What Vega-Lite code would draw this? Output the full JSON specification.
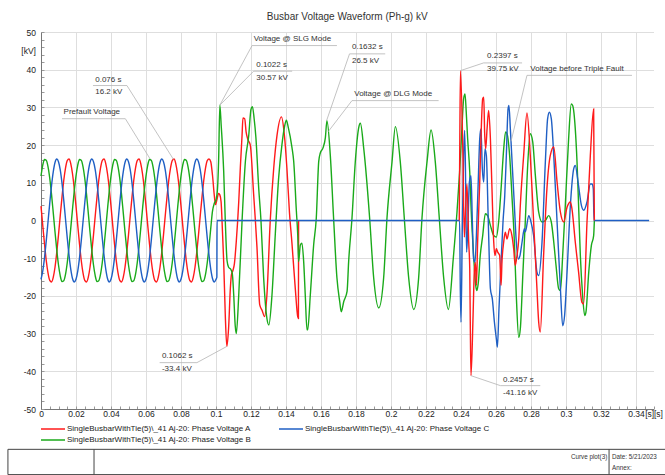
{
 "$schema": "https://vega.github.io/schema/vega-lite/v6.json",
 "background": "white",
 "padding": {"left": 7, "top": 12, "right": 0, "bottom": 0},
 "config": {"font": "Liberation Sans", "view": {"stroke": null}},
 "width": 612.5,
 "height": 377,
 "title": {"text": "Busbar Voltage Waveform (Ph-g) kV", "fontSize": 10, "fontWeight": "normal", "color": "#333333", "frame": "group", "anchor": "middle", "offset": 6},
 "datasets": {
  "w": [
   {"t":0,"A":3.8,"B":11.8,"C":-15.6},{"t":0.001,"A":-1.3,"B":14.7,"C":-13.4},{"t":0.002,"A":-6.2,"B":16.2,"C":-9.9},{"t":0.003,"A":-10.6,"B":16,"C":-5.4},{"t":0.004,"A":-13.9,"B":14.3,"C":-0.4},{"t":0.005,"A":-15.9,"B":11.2,"C":4.6},{"t":0.006,"A":-16.3,"B":7,"C":9.2},{"t":0.007,"A":-15.1,"B":2.1,"C":12.9},{"t":0.008,"A":-12.4,"B":-3,"C":15.4},{"t":0.009,"A":-8.5,"B":-7.8,"C":16.3},
   {"t":0.01,"A":-3.8,"B":-11.8,"C":15.6},{"t":0.011,"A":1.3,"B":-14.7,"C":13.4},{"t":0.012,"A":6.2,"B":-16.2,"C":9.9},{"t":0.013,"A":10.6,"B":-16,"C":5.4},{"t":0.014,"A":13.9,"B":-14.3,"C":0.4},{"t":0.015,"A":15.9,"B":-11.2,"C":-4.6},{"t":0.016,"A":16.3,"B":-7,"C":-9.2},{"t":0.017,"A":15.1,"B":-2.1,"C":-12.9},{"t":0.018,"A":12.4,"B":3,"C":-15.4},{"t":0.019,"A":8.5,"B":7.8,"C":-16.3},
   {"t":0.02,"A":3.8,"B":11.8,"C":-15.6},{"t":0.021,"A":-1.3,"B":14.7,"C":-13.4},{"t":0.022,"A":-6.2,"B":16.2,"C":-9.9},{"t":0.023,"A":-10.6,"B":16,"C":-5.4},{"t":0.024,"A":-13.9,"B":14.3,"C":-0.4},{"t":0.025,"A":-15.9,"B":11.2,"C":4.6},{"t":0.026,"A":-16.3,"B":7,"C":9.2},{"t":0.027,"A":-15.1,"B":2.1,"C":12.9},{"t":0.028,"A":-12.4,"B":-3,"C":15.4},{"t":0.029,"A":-8.5,"B":-7.8,"C":16.3},
   {"t":0.03,"A":-3.8,"B":-11.8,"C":15.6},{"t":0.031,"A":1.3,"B":-14.7,"C":13.4},{"t":0.032,"A":6.2,"B":-16.2,"C":9.9},{"t":0.033,"A":10.6,"B":-16,"C":5.4},{"t":0.034,"A":13.9,"B":-14.3,"C":0.4},{"t":0.035,"A":15.9,"B":-11.2,"C":-4.6},{"t":0.036,"A":16.3,"B":-7,"C":-9.2},{"t":0.037,"A":15.1,"B":-2.1,"C":-12.9},{"t":0.038,"A":12.4,"B":3,"C":-15.4},{"t":0.039,"A":8.5,"B":7.8,"C":-16.3},
   {"t":0.04,"A":3.8,"B":11.8,"C":-15.6},{"t":0.041,"A":-1.3,"B":14.7,"C":-13.4},{"t":0.042,"A":-6.2,"B":16.2,"C":-9.9},{"t":0.043,"A":-10.6,"B":16,"C":-5.4},{"t":0.044,"A":-13.9,"B":14.3,"C":-0.4},{"t":0.045,"A":-15.9,"B":11.2,"C":4.6},{"t":0.046,"A":-16.3,"B":7,"C":9.2},{"t":0.047,"A":-15.1,"B":2.1,"C":12.9},{"t":0.048,"A":-12.4,"B":-3,"C":15.4},{"t":0.049,"A":-8.5,"B":-7.8,"C":16.3},
   {"t":0.05,"A":-3.8,"B":-11.8,"C":15.6},{"t":0.051,"A":1.3,"B":-14.7,"C":13.4},{"t":0.052,"A":6.2,"B":-16.2,"C":9.9},{"t":0.053,"A":10.6,"B":-16,"C":5.4},{"t":0.054,"A":13.9,"B":-14.3,"C":0.4},{"t":0.055,"A":15.9,"B":-11.2,"C":-4.6},{"t":0.056,"A":16.3,"B":-7,"C":-9.2},{"t":0.057,"A":15.1,"B":-2.1,"C":-12.9},{"t":0.058,"A":12.4,"B":3,"C":-15.4},{"t":0.059,"A":8.5,"B":7.8,"C":-16.3},
   {"t":0.06,"A":3.8,"B":11.8,"C":-15.6},{"t":0.061,"A":-1.3,"B":14.7,"C":-13.4},{"t":0.062,"A":-6.2,"B":16.2,"C":-9.9},{"t":0.063,"A":-10.6,"B":16,"C":-5.4},{"t":0.064,"A":-13.9,"B":14.3,"C":-0.4},{"t":0.065,"A":-15.9,"B":11.2,"C":4.6},{"t":0.066,"A":-16.3,"B":7,"C":9.2},{"t":0.067,"A":-15.1,"B":2.1,"C":12.9},{"t":0.068,"A":-12.4,"B":-3,"C":15.4},{"t":0.069,"A":-8.5,"B":-7.8,"C":16.3},
   {"t":0.07,"A":-3.8,"B":-11.8,"C":15.6},{"t":0.071,"A":1.3,"B":-14.7,"C":13.4},{"t":0.072,"A":6.2,"B":-16.2,"C":9.9},{"t":0.073,"A":10.6,"B":-16,"C":5.4},{"t":0.074,"A":13.9,"B":-14.3,"C":0.4},{"t":0.075,"A":15.9,"B":-11.2,"C":-4.6},{"t":0.076,"A":16.3,"B":-7,"C":-9.2},{"t":0.077,"A":15.1,"B":-2.1,"C":-12.9},{"t":0.078,"A":12.4,"B":3,"C":-15.4},{"t":0.079,"A":8.5,"B":7.8,"C":-16.3},
   {"t":0.08,"A":3.8,"B":11.8,"C":-15.6},{"t":0.081,"A":-1.3,"B":14.7,"C":-13.4},{"t":0.082,"A":-6.2,"B":16.2,"C":-9.9},{"t":0.083,"A":-10.6,"B":16,"C":-5.4},{"t":0.084,"A":-13.9,"B":14.3,"C":-0.4},{"t":0.085,"A":-15.9,"B":11.2,"C":4.6},{"t":0.086,"A":-16.3,"B":7,"C":9.2},{"t":0.087,"A":-15.1,"B":2.1,"C":12.9},{"t":0.088,"A":-12.4,"B":-3,"C":15.4},{"t":0.089,"A":-8.5,"B":-7.8,"C":16.3},
   {"t":0.09,"A":-3.8,"B":-11.8,"C":15.6},{"t":0.091,"A":1.3,"B":-14.7,"C":13.4},{"t":0.092,"A":6.2,"B":-16.2,"C":9.9},{"t":0.093,"A":10.6,"B":-16,"C":5.4},{"t":0.094,"A":13.9,"B":-14.3,"C":0.4},{"t":0.095,"A":15.9,"B":-11.2,"C":-4.6},{"t":0.096,"A":16.3,"B":-7,"C":-9.2},
   {"t":0.097,"C":-12.9},{"t":0.098,"C":-15.4},{"t":0.099,"C":-16.3},{"t":0.1,"C":-15.6},{"t":0.1005,"C":-15},{"t":0.1006,"C":0},{"t":0.2392,"C":0},
   {"t":0.2396,"C":-18.1},{"t":0.24,"C":-27},{"t":0.2408,"C":-0.4},{"t":0.2415,"C":17.2},{"t":0.2421,"C":23.9},{"t":0.2427,"C":8.4},{"t":0.2432,"C":-8.4},{"t":0.244,"C":-0.4},{"t":0.2448,"C":10.2},{"t":0.2457,"C":11.9},{"t":0.2465,"C":-0.4},{"t":0.2472,"C":-10.2},{"t":0.248,"C":-11.1},{"t":0.2488,"C":-4},{"t":0.2499,"C":11.1},{"t":0.2507,"C":21.7},{"t":0.2514,"C":24.3},{"t":0.2522,"C":13.7},{"t":0.253,"C":10.2},{"t":0.2537,"C":19},{"t":0.2545,"C":17.2},{"t":0.2556,"C":-0.4},{"t":0.2568,"C":-18.1},{"t":0.2579,"C":-20.8},{"t":0.2591,"C":-27},{"t":0.2602,"C":-31.4},{"t":0.2608,"C":-33.6},{"t":0.2617,"C":-23.4},{"t":0.2629,"C":-11.1},{"t":0.264,"C":-0.4},{"t":0.265,"C":6.6},{"t":0.2659,"C":17.2},{"t":0.2669,"C":29.6},{"t":0.2674,"C":30.5},{"t":0.2682,"C":24.3},{"t":0.2693,"C":14.6},{"t":0.2705,"C":4},{"t":0.2716,"C":-5.7},{"t":0.2728,"C":-10.2},{"t":0.2737,"C":-9.3},{"t":0.2749,"C":-5.7},{"t":0.2762,"C":-2.2},{"t":0.2768,"C":-3},{"t":0.2787,"C":1.3},{"t":0.28,"C":-0.4},{"t":0.2815,"C":-4},{"t":0.2834,"C":-13.7},{"t":0.2844,"C":-14.6},{"t":0.2863,"C":-5.7},{"t":0.2882,"C":15.5},{"t":0.2895,"C":27},{"t":0.2905,"C":28.7},{"t":0.2916,"C":27},{"t":0.293,"C":17.2},{"t":0.2949,"C":-0.4},{"t":0.2968,"C":-18.1},{"t":0.2981,"C":-27.9},{"t":0.2992,"C":-25.2},{"t":0.3006,"C":-13.7},{"t":0.3025,"C":4},{"t":0.3044,"C":13.7},{"t":0.3053,"C":14.6},{"t":0.3069,"C":10.2},{"t":0.3088,"C":4},{"t":0.3101,"C":2.7},{"t":0.312,"C":4.9},{"t":0.3139,"C":9.7},{"t":0.3149,"C":9.7},{"t":0.3156,"C":8.4},{"t":0.316,"C":0},{"t":0.3475,"C":0},
   {"t":0.097,"A":15.6},{"t":0.098,"A":12},{"t":0.099,"A":6.8},{"t":0.0997,"A":4.2},{"t":0.1005,"A":5.5},{"t":0.1015,"A":7.2},{"t":0.1022,"A":6.8},{"t":0.1029,"A":5},{"t":0.1037,"A":-3},{"t":0.1044,"A":-11},{"t":0.1053,"A":-25},{"t":0.1062,"A":-33.4},{"t":0.1072,"A":-28.5},{"t":0.1082,"A":-18},{"t":0.1088,"A":-14.4},{"t":0.1097,"A":-13.2},{"t":0.1105,"A":-11.5},{"t":0.1116,"A":-5.5},{"t":0.113,"A":5},{"t":0.1139,"A":14},{"t":0.1149,"A":22.7},{"t":0.1154,"A":27.2},{"t":0.1164,"A":27},{"t":0.1172,"A":23.5},{"t":0.1182,"A":21.5},{"t":0.1196,"A":20},{"t":0.1215,"A":7},{"t":0.1225,"A":0},{"t":0.1234,"A":-7},{"t":0.125,"A":-22.4},{"t":0.1263,"A":-23.8},{"t":0.1278,"A":-25.5},{"t":0.1291,"A":-19.7},{"t":0.131,"A":0},{"t":0.133,"A":14},{"t":0.1349,"A":22.7},{"t":0.1374,"A":27.5},{"t":0.139,"A":23},{"t":0.1405,"A":14},{"t":0.142,"A":2},{"t":0.1434,"A":-6},{"t":0.1453,"A":-18},{"t":0.1467,"A":-25.5},{"t":0.1471,"A":-26},{"t":0.1472,"A":0},
   {"t":0.239,"A":0,"g":2},{"t":0.2393,"A":20,"g":2},{"t":0.2397,"A":39.75,"g":2},{"t":0.2411,"A":17.2,"g":2},{"t":0.2419,"A":-4.4,"g":2},{"t":0.2427,"A":4,"g":2},{"t":0.2434,"A":9.7,"g":2},{"t":0.2444,"A":-5.7,"g":2},{"t":0.245,"A":-12.8,"g":2},{"t":0.2453,"A":-27,"g":2},{"t":0.2457,"A":-41.16,"g":2},{"t":0.2469,"A":-25.2,"g":2},{"t":0.2476,"A":-13.7,"g":2},{"t":0.2482,"A":-11.1,"g":2},{"t":0.2488,"A":-17.2,"g":2},{"t":0.2495,"A":-5.7,"g":2},{"t":0.2507,"A":10.2,"g":2},{"t":0.2514,"A":21.7,"g":2},{"t":0.2524,"A":32.3,"g":2},{"t":0.253,"A":32.7,"g":2},{"t":0.2535,"A":23.4,"g":2},{"t":0.2541,"A":19,"g":2},{"t":0.2549,"A":24.3,"g":2},{"t":0.2558,"A":29.2,"g":2},{"t":0.2568,"A":21.7,"g":2},{"t":0.2577,"A":8.4,"g":2},{"t":0.2587,"A":-5.7,"g":2},{"t":0.2594,"A":-9.3,"g":2},{"t":0.2602,"A":-7.5,"g":2},{"t":0.261,"A":-8.4,"g":2},{"t":0.2621,"A":-9.3,"g":2},{"t":0.2629,"A":-17.2,"g":2},{"t":0.2634,"A":-11.1,"g":2},{"t":0.2644,"A":-5.7,"g":2},{"t":0.2653,"A":-3.1,"g":2},{"t":0.2663,"A":-4.9,"g":2},{"t":0.2678,"A":-2.2,"g":2},{"t":0.2691,"A":-4,"g":2},{"t":0.2701,"A":-7.5,"g":2},{"t":0.271,"A":-11.9,"g":2},{"t":0.272,"A":-9.3,"g":2},{"t":0.273,"A":-4.9,"g":2},{"t":0.2739,"A":4,"g":2},{"t":0.2758,"A":17.2,"g":2},{"t":0.2777,"A":28.5,"g":2},{"t":0.2796,"A":17.2,"g":2},{"t":0.2815,"A":-0.4,"g":2},{"t":0.2834,"A":-18.1,"g":2},{"t":0.2844,"A":-27,"g":2},{"t":0.2853,"A":-29.6,"g":2},{"t":0.2872,"A":-9.3,"g":2},{"t":0.2891,"A":8.4,"g":2},{"t":0.291,"A":17.2,"g":2},{"t":0.293,"A":19.5,"g":2},{"t":0.2949,"A":10.2,"g":2},{"t":0.2968,"A":2.2,"g":2},{"t":0.2987,"A":-0.4,"g":2},{"t":0.3006,"A":3.5,"g":2},{"t":0.3025,"A":4.9,"g":2},{"t":0.3034,"A":3.1,"g":2},{"t":0.3053,"A":-5.7,"g":2},{"t":0.3072,"A":-13.7,"g":2},{"t":0.3091,"A":-21.7,"g":2},{"t":0.3101,"A":-22.1,"g":2},{"t":0.312,"A":-0.4,"g":2},{"t":0.3139,"A":17.2,"g":2},{"t":0.3158,"A":29.6,"g":2},{"t":0.3162,"A":0,"g":2},
   {"t":0.097,"B":-2.1},{"t":0.098,"B":2.5},{"t":0.099,"B":4.5},{"t":0.1,"B":5.5},{"t":0.1008,"B":8},{"t":0.1015,"B":16},{"t":0.1022,"B":30.6},{"t":0.103,"B":25},{"t":0.1044,"B":13},{"t":0.1053,"B":0},{"t":0.1063,"B":-10.6},{"t":0.1072,"B":-12.4},{"t":0.1085,"B":-13},{"t":0.1093,"B":-14},{"t":0.1101,"B":-19.5},{"t":0.111,"B":-28},{"t":0.1116,"B":-30},{"t":0.113,"B":-19.7},{"t":0.1149,"B":0},{"t":0.1168,"B":15.7},{"t":0.1187,"B":22.5},{"t":0.12,"B":29.5},{"t":0.1208,"B":30.2},{"t":0.1218,"B":27},{"t":0.1228,"B":22},{"t":0.1244,"B":8.6},{"t":0.1257,"B":0},{"t":0.1272,"B":-15},{"t":0.1291,"B":-26},{"t":0.1302,"B":-27.7},{"t":0.132,"B":-19.7},{"t":0.1339,"B":-3.5},{"t":0.1358,"B":11.3},{"t":0.1377,"B":20.2},{"t":0.1392,"B":25},{"t":0.1402,"B":26.6},{"t":0.1413,"B":24.7},{"t":0.1434,"B":19.4},{"t":0.1444,"B":15.7},{"t":0.1459,"B":2.7},{"t":0.1467,"B":-3.8},{"t":0.1472,"B":-10.9},{"t":0.1482,"B":-6.5},{"t":0.1491,"B":-6},{"t":0.1501,"B":-10.9},{"t":0.151,"B":-19.7},{"t":0.152,"B":-29},{"t":0.1524,"B":-29},{"t":0.1539,"B":-19.7},{"t":0.1558,"B":-6.5},{"t":0.1573,"B":0.6},{"t":0.1587,"B":15.7},{"t":0.1596,"B":17.9},{"t":0.1611,"B":19.2},{"t":0.1625,"B":22},{"t":0.1634,"B":26.5},{"t":0.1653,"B":17.4},{"t":0.1672,"B":0.6},{"t":0.1691,"B":-15.2},{"t":0.1707,"B":-21.5},{"t":0.1716,"B":-24.2},{"t":0.173,"B":-21.5},{"t":0.1749,"B":-18.8},{"t":0.1758,"B":-10.9},{"t":0.1777,"B":0.6},{"t":0.1796,"B":15.6},{"t":0.1815,"B":24.5},{"t":0.1825,"B":25.8},{"t":0.1844,"B":19.2},{"t":0.1878,"B":0.6},{"t":0.1901,"B":-15.2},{"t":0.193,"B":-23.2},{"t":0.1958,"B":-15.2},{"t":0.1977,"B":0.6},{"t":0.2006,"B":15.6},{"t":0.2025,"B":24.9},{"t":0.2053,"B":15.6},{"t":0.2076,"B":0.6},{"t":0.2101,"B":-15.2},{"t":0.213,"B":-23.6},{"t":0.2158,"B":-15.2},{"t":0.2177,"B":0.6},{"t":0.2206,"B":15.6},{"t":0.2229,"B":24},{"t":0.2253,"B":15.6},{"t":0.2276,"B":0.6},{"t":0.2301,"B":-15.2},{"t":0.2328,"B":-23.6},{"t":0.2356,"B":-10},{"t":0.2377,"B":2.2},{"t":0.2392,"B":12.8},{"t":0.2406,"B":25.2},{"t":0.2415,"B":32.3},{"t":0.2423,"B":33.6},{"t":0.243,"B":28.7},{"t":0.2438,"B":21.7},{"t":0.245,"B":12.8},{"t":0.2457,"B":4},{"t":0.2472,"B":-9.3},{"t":0.2484,"B":-17.2},{"t":0.2491,"B":-18.6},{"t":0.2499,"B":-16.4},{"t":0.251,"B":-9.3},{"t":0.2524,"B":-4},{"t":0.2539,"B":1.8},{"t":0.2552,"B":1.3},{"t":0.2568,"B":-1.3},{"t":0.2587,"B":-4},{"t":0.2602,"B":-4.4},{"t":0.2615,"B":-0.4},{"t":0.2629,"B":8.4},{"t":0.2644,"B":19},{"t":0.2655,"B":23.5},{"t":0.2663,"B":23},{"t":0.2678,"B":17.2},{"t":0.2691,"B":6.6},{"t":0.2705,"B":-5.7},{"t":0.2716,"B":-19.9},{"t":0.273,"B":-31},{"t":0.2739,"B":-28.7},{"t":0.2754,"B":-13.7},{"t":0.2768,"B":0.4},{"t":0.2781,"B":14.6},{"t":0.2796,"B":23},{"t":0.281,"B":20.8},{"t":0.2825,"B":11.9},{"t":0.2844,"B":2.2},{"t":0.2863,"B":-0.4},{"t":0.2882,"B":0},{"t":0.2901,"B":1.3},{"t":0.2916,"B":-0.4},{"t":0.293,"B":-5.7},{"t":0.2943,"B":-11.9},{"t":0.2958,"B":-18.1},{"t":0.2968,"B":-18.6},{"t":0.2981,"B":-9.3},{"t":0.2996,"B":4},{"t":0.3015,"B":21.7},{"t":0.303,"B":30.9},{"t":0.3038,"B":30.5},{"t":0.3053,"B":24.3},{"t":0.3063,"B":15.5},{"t":0.3072,"B":4},{"t":0.3082,"B":-9.3},{"t":0.3095,"B":-19.9},{"t":0.3107,"B":-25.2},{"t":0.3114,"B":-24.3},{"t":0.313,"B":-13.7},{"t":0.3145,"B":-6.6},{"t":0.3158,"B":-4},{"t":0.3162,"B":0}
  ],
  "ann": [
   {"t":0.031,"kV":37.4,"s":"0.076 s"},{"t":0.031,"kV":34.0,"s":"16.2 kV"},
   {"t":0.0129,"kV":28.7,"s":"Prefault Voltage"},
   {"t":0.1215,"kV":48.2,"s":"Voltage @ SLG Mode"},
   {"t":0.123,"kV":41.3,"s":"0.1022 s"},{"t":0.123,"kV":37.7,"s":"30.57 kV"},
   {"t":0.1777,"kV":46.0,"s":"0.1632 s"},{"t":0.1777,"kV":42.4,"s":"26.5 kV"},
   {"t":0.179,"kV":33.6,"s":"Voltage @ DLG Mode"},
   {"t":0.2549,"kV":43.6,"s":"0.2397 s"},{"t":0.2549,"kV":40.1,"s":"39.75 kV"},
   {"t":0.2796,"kV":40.1,"s":"Voltage before Triple Fault"},
   {"t":0.0691,"kV":-36.0,"s":"0.1062 s"},{"t":0.0691,"kV":-39.5,"s":"-33.4 kV"},
   {"t":0.264,"kV":-42.2,"s":"0.2457 s"},{"t":0.264,"kV":-45.7,"s":"-41.16 kV"}
  ],
  "ld": [
   {"t":0.0297,"kV":35.8,"t2":0.0491,"kV2":35.8},{"t":0.0491,"kV":35.8,"t2":0.0757,"kV2":16.2},
   {"t":0.012,"kV":27.0,"t2":0.0482,"kV2":27.0},{"t":0.0482,"kV":27.0,"t2":0.0624,"kV2":16.3},
   {"t":0.1206,"kV":46.4,"t2":0.1691,"kV2":46.4},{"t":0.1206,"kV":46.4,"t2":0.1022,"kV2":30.6},
   {"t":0.1215,"kV":39.6,"t2":0.1435,"kV2":39.6},{"t":0.1215,"kV":39.6,"t2":0.1022,"kV2":30.6},
   {"t":0.1763,"kV":44.2,"t2":0.1967,"kV2":44.2},{"t":0.1763,"kV":44.2,"t2":0.1632,"kV2":26.5},
   {"t":0.1777,"kV":31.8,"t2":0.2272,"kV2":31.8},{"t":0.1777,"kV":31.8,"t2":0.164,"kV2":23.5},
   {"t":0.2529,"kV":41.8,"t2":0.2749,"kV2":41.8},{"t":0.2529,"kV":41.8,"t2":0.2397,"kV2":39.75},
   {"t":0.2777,"kV":38.5,"t2":0.3377,"kV2":38.5},{"t":0.2777,"kV":38.5,"t2":0.2686,"kV2":21},
   {"t":0.0678,"kV":-37.7,"t2":0.0891,"kV2":-37.7},{"t":0.0891,"kV":-37.7,"t2":0.1062,"kV2":-33.4},
   {"t":0.2625,"kV":-43.8,"t2":0.2853,"kV2":-43.8},{"t":0.2625,"kV":-43.8,"t2":0.2457,"kV2":-41.16}
  ],
  "tb": [
   {"t":-0.0189,"kV":-60.7,"t2":0.3567,"kV2":-60.7},
   {"t":-0.0189,"kV":-67.4,"t2":0.3567,"kV2":-67.4},
   {"t":-0.0189,"kV":-60.7,"t2":-0.0189,"kV2":-67.4},
   {"t":0.0303,"kV":-60.7,"t2":0.0303,"kV2":-67.4},
   {"t":0.3246,"kV":-60.7,"t2":0.3246,"kV2":-67.4}
  ],
  "tt": [
   {"t":0.3028,"kV":-62.6,"s":"Curve plot(3)"},
   {"t":0.3263,"kV":-62.6,"s":"Date: 5/21/2023"},
   {"t":0.3263,"kV":-65.6,"s":"Annex:"}
  ]
 },
 "layer": [
  {
   "data": {"name": "w"},
   "transform": [{"fold": ["A", "B", "C"], "as": ["phase", "kV"]}, {"filter": "isValid(datum.kV)"}],
   "mark": {"type": "line", "strokeWidth": 1.4, "interpolate": "monotone"},
   "encoding": {
    "x": {"field": "t", "type": "quantitative", "title": null,
     "scale": {"domain": [0, 0.35], "nice": false, "zero": false},
     "axis": {
      "values": [0,0.005,0.01,0.015,0.02,0.025,0.03,0.035,0.04,0.045,0.05,0.055,0.06,0.065,0.07,0.075,0.08,0.085,0.09,0.095,0.1,0.105,0.11,0.115,0.12,0.125,0.13,0.135,0.14,0.145,0.15,0.155,0.16,0.165,0.17,0.175,0.18,0.185,0.19,0.195,0.2,0.205,0.21,0.215,0.22,0.225,0.23,0.235,0.24,0.245,0.25,0.255,0.26,0.265,0.27,0.275,0.28,0.285,0.29,0.295,0.3,0.305,0.31,0.315,0.32,0.325,0.33,0.335,0.34,0.345,0.35],
      "tickCount": 500,
      "labelExpr": "datum.value > 0.3449 ? '[s]' : (round(datum.value * 1000) % 20 == 0 ? '' + datum.value : '')",
      "labelAlign": {"condition": {"test": "datum.value > 0.3449", "value": "left"}, "value": "center"},
      "labelOverlap": false, "labelFlush": false, "labelBound": false,
      "labelFontSize": 8.5, "labelColor": "#222222",
      "gridColor": "#dedede",
      "gridOpacity": {"condition": {"test": "round(datum.value * 1000) % 20 != 0", "value": 0}, "value": 1},
      "domainColor": "#777777", "tickColor": "#999999", "tickSize": -3, "labelPadding": 3
     }},
    "y": {"field": "kV", "type": "quantitative", "title": null,
     "scale": {"domain": [-50, 50], "nice": false, "zero": false},
     "axis": {
      "values": [-50,-48,-46,-44,-42,-40,-38,-36,-34,-32,-30,-28,-26,-24,-22,-20,-18,-16,-14,-12,-10,-8,-6,-4,-2,0,2,4,6,8,10,12,14,16,18,20,22,24,26,28,30,32,34,36,38,40,42,44,45,46,48,50],
      "tickCount": 500,
      "labelExpr": "datum.value == 45 ? '[kV]' : (datum.value % 10 == 0 ? '' + datum.value : '')",
      "labelOverlap": false, "labelFontSize": 8.5, "labelColor": "#222222",
      "gridColor": "#dedede",
      "gridOpacity": {"condition": {"test": "datum.value % 10 != 0", "value": 0}, "value": 1},
      "tickOpacity": {"condition": {"test": "datum.value == 45", "value": 0}, "value": 1},
      "domainColor": "#777777", "tickColor": "#999999", "tickSize": -3, "labelPadding": 8.5
     }},
    "detail": {"field": "g"},
    "color": {"field": "phase", "type": "nominal",
     "scale": {"domain": ["A", "C", "B"], "range": ["#ff1a1a", "#1f5fc4", "#1aaa1a"]},
     "legend": {"orient": "none", "legendX": 0, "legendY": 391, "direction": "horizontal", "columns": 2, "title": null,
      "labelExpr": "'SingleBusbarWithTie(5)\\\\_41 Aj-20: Phase Voltage ' + datum.label",
      "symbolType": "M-2.4,0H2.4", "symbolSize": 100, "symbolStrokeWidth": 1.5, "symbolOffset": 6,
      "labelFontSize": 8, "labelColor": "#222222", "labelLimit": 0, "labelOffset": 8,
      "columnPadding": 24, "rowPadding": 1}}
   }
  },
  {
   "data": {"name": "ld"},
   "mark": {"type": "rule", "color": "#b4b4b4", "strokeWidth": 0.8},
   "encoding": {
    "x": {"field": "t", "type": "quantitative", "title": null},
    "y": {"field": "kV", "type": "quantitative", "title": null},
    "x2": {"field": "t2"},
    "y2": {"field": "kV2"}
   }
  },
  {
   "data": {"name": "ann"},
   "mark": {"type": "text", "align": "left", "baseline": "middle", "fontSize": 8, "color": "#333333"},
   "encoding": {
    "x": {"field": "t", "type": "quantitative", "title": null},
    "y": {"field": "kV", "type": "quantitative", "title": null},
    "text": {"field": "s"}
   }
  },
  {
   "data": {"name": "tb"},
   "mark": {"type": "rule", "color": "#444444", "strokeWidth": 1},
   "encoding": {
    "x": {"field": "t", "type": "quantitative", "title": null},
    "y": {"field": "kV", "type": "quantitative", "title": null},
    "x2": {"field": "t2"},
    "y2": {"field": "kV2"}
   }
  },
  {
   "data": {"name": "tt"},
   "mark": {"type": "text", "align": "left", "baseline": "middle", "fontSize": 6.3, "color": "#333333"},
   "encoding": {
    "x": {"field": "t", "type": "quantitative", "title": null},
    "y": {"field": "kV", "type": "quantitative", "title": null},
    "text": {"field": "s"}
   }
  }
 ]
}
